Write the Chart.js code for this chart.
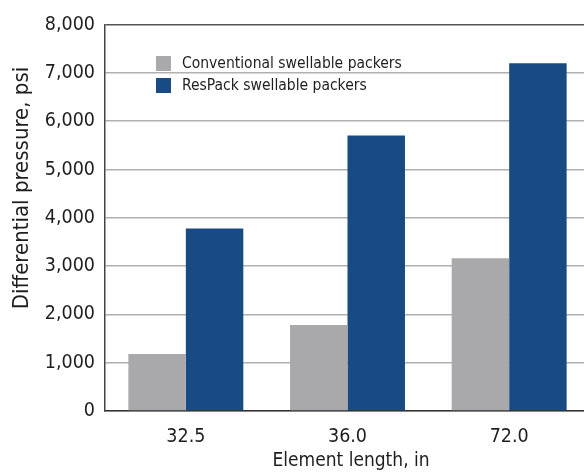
<!DOCTYPE html>
<html>
<head>
<meta charset="utf-8">
<script src="https://cdn.jsdelivr.net/npm/chart.js@4.4.1/dist/chart.umd.min.js"></script>
<style>
  html, body { margin:0; padding:0; background:#fff; overflow:hidden; }
  #wrap { width:592px; height:472px; }
</style>
</head>
<body>
<div id="wrap"><canvas id="chart" width="592" height="472"></canvas></div>
<script>
const FONT = "'Liberation Sans Narrow', 'Arial Narrow', 'DejaVu Sans Condensed', sans-serif";

const lengths = ["32.5", "36.0", "72.0"];
const conventional = [1180, 1780, 3160];
const respack = [3780, 5700, 7200];
const yTicks = [0, 1000, 2000, 3000, 4000, 5000, 6000, 7000, 8000];

const GREY = "#a9a9ab";
const BLUE = "#184a84";
const INK = "#1e1e1e";

// legend inside plot + axis titles, drawn on the canvas
const extras = {
  id: "extras",
  afterDraw(chart){
    const ctx = chart.ctx;
    ctx.save();
    ctx.fillStyle = INK;
    ctx.textBaseline = "middle";

    // legend
    chart.data.datasets.forEach((ds, i) => {
      const y = 63 + i * 22;
      ctx.fillStyle = ds.backgroundColor;
      ctx.fillRect(156, y - 7, 15, 15);
      ctx.fillStyle = INK;
      ctx.font = "15.5px " + FONT;
      ctx.textAlign = "left";
      ctx.fillText(ds.label, 182, y + 1);
    });

    // x title
    ctx.font = "19px " + FONT;
    ctx.textAlign = "center";
    ctx.fillText("Element length, in", 351, 461);

    // y title
    ctx.font = "22px " + FONT;
    ctx.translate(22, 188);
    ctx.rotate(-Math.PI / 2);
    ctx.fillText("Differential pressure, psi", 0, 0);
    ctx.restore();
  }
};

new Chart(document.getElementById("chart"), {
  type: "bar",
  data: {
    labels: lengths,
    datasets: [
      { label: "Conventional swellable packers", data: conventional, backgroundColor: GREY },
      { label: "ResPack swellable packers", data: respack, backgroundColor: BLUE }
    ]
  },
  options: {
    responsive: false,
    animation: false,
    devicePixelRatio: 1,
    layout: { padding: { top: 24.5, right: 2, left: 0, bottom: 0 } },
    datasets: { bar: { barPercentage: 1, categoryPercentage: 0.711 } },
    plugins: { legend: { display: false }, tooltip: { enabled: false } },
    scales: {
      x: {
        grid: { display: false, drawTicks: false },
        border: { color: "#333", width: 1.5 },
        ticks: { color: INK, font: { family: FONT, size: 19.5 }, padding: 14 },
        afterFit(s){ s.height = 61; }
      },
      y: {
        min: 0, max: 8000,
        afterBuildTicks(s){ s.ticks = yTicks.map(v => ({ value: v })); },
        grid: {
          drawTicks: false,
          lineWidth: 1.5,
          color: c => (c.tick && c.tick.value === 8000) ? "#555" : "#b0b0b0"
        },
        border: { color: "#444", width: 1.5 },
        ticks: {
          color: INK,
          font: { family: FONT, size: 19.5 },
          padding: 10,
          callback: v => v.toLocaleString("en-US")
        },
        afterFit(s){ s.width = 105; }
      }
    }
  },
  plugins: [extras]
});
</script>
</body>
</html>
